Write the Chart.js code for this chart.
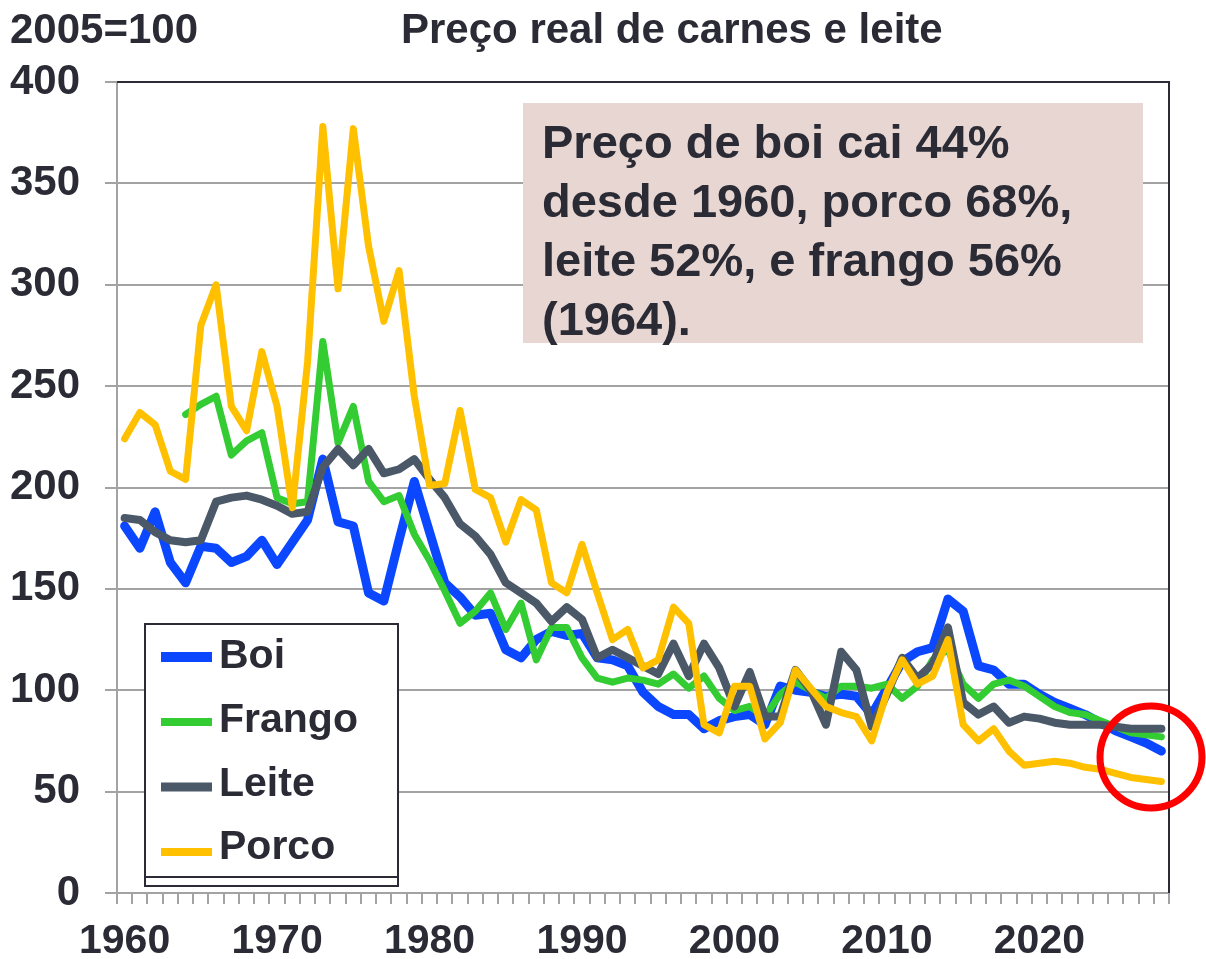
<!DOCTYPE html>
<html><head><meta charset="utf-8">
<script src="https://cdn.jsdelivr.net/npm/chart.js@4.4.0/dist/chart.umd.min.js"></script>
<style>html,body{margin:0;padding:0;background:#fff}#wrap{width:1206px;height:959px;position:relative}</style>
</head><body><div id="wrap"><canvas id="c" width="1206" height="959"></canvas></div>
<script>
const years = ['1960','1961','1962','1963','1964','1965','1966','1967','1968','1969',
  '1970','1971','1972','1973','1974','1975','1976','1977','1978','1979',
  '1980','1981','1982','1983','1984','1985','1986','1987','1988','1989',
  '1990','1991','1992','1993','1994','1995','1996','1997','1998','1999',
  '2000','2001','2002','2003','2004','2005','2006','2007','2008','2009',
  '2010','2011','2012','2013','2014','2015','2016','2017','2018','2019',
  '2020','2021','2022','2023','2024','2025','2026','2027','2028'];
const tickLabels = ['1960','1970','1980','1990','2000','2010','2020'];
const boi = [181,170,188,163,153,171,170,163,166,174,
  162,173,184,214,183,181,148,144,174,203,
  178,153,146,137,138,120,116,125,129,127,
  128,116,115,112,99,92,88,88,81,85,
  87,88,83,102,100,99,97,98,97,88,
  101,114,119,121,145,139,112,110,103,103,
  98,94,91,88,84,80,77,74,70];
const frango = [null,null,null,null,236,241,245,216,223,227,
  195,192,193,272,222,240,203,193,196,177,
  164,149,133,139,148,130,143,115,131,131,
  116,106,104,106,105,103,108,101,107,96,
  90,92,87,98,104,100,96,102,102,101,
  103,96,102,115,120,103,96,103,105,102,
  97,92,89,88,85,82,79,78,77];
const leite = [185,184,178,174,173,174,193,195,196,194,
  191,187,188,210,219,211,219,207,209,214,
  204,195,182,176,167,153,148,143,134,141,
  135,116,120,116,112,108,123,107,123,111,
  92,109,87,87,110,100,83,119,110,82,
  98,116,106,113,131,94,88,92,84,87,
  86,84,83,83,83,82,81,81,81];
const porco = [224,237,231,208,204,280,300,240,228,267,
  240,190,262,378,298,377,319,282,307,245,
  201,202,238,199,195,173,194,189,153,148,
  172,148,125,130,111,115,141,133,83,79,
  102,102,76,84,110,101,92,89,87,75,
  99,115,103,107,125,83,75,81,70,63,
  64,65,64,62,61,59,57,56,55];
const seriesNames = ['Boi','Frango','Leite','Porco'];
const seriesColors = ['#0a47ff','#33cc33','#4a5868','#ffc000'];
const unitLabel = '2005=100';
const chartTitle = 'Preço real de carnes e leite';
const noteLines = ['Preço de boi cai 44%','desde 1960, porco 68%,','leite 52%, e frango 56%','(1964).'];

const TXT = '#2b2b35';
const FONT = '"Liberation Sans", Arial, sans-serif';
const GRID = '#a3a3a3';

const decor = {
  id: 'decor',
  afterDraw(chart) {
    const ctx = chart.ctx, a = chart.chartArea;
    ctx.save();
    ctx.strokeStyle = TXT; ctx.lineWidth = 2;
    ctx.beginPath(); ctx.moveTo(a.left, a.top); ctx.lineTo(a.right, a.top); ctx.lineTo(a.right, a.bottom); ctx.stroke();
    ctx.fillStyle = TXT; ctx.textAlign = 'left'; ctx.textBaseline = 'alphabetic';
    ctx.font = 'bold 42px ' + FONT;
    ctx.fillText(unitLabel, 10, 43);
    ctx.fillText(chartTitle, 401, 43);
    // note box
    ctx.fillStyle = '#e8d6d3';
    ctx.fillRect(523, 103, 620, 240);
    ctx.fillStyle = TXT; ctx.font = 'bold 47px ' + FONT;
    noteLines.forEach((t, i) => ctx.fillText(t, 542, 158 + i * 59));
    // legend
    ctx.fillStyle = '#fff'; ctx.fillRect(145, 624, 253, 262);
    ctx.strokeStyle = TXT; ctx.lineWidth = 2;
    ctx.strokeRect(145, 624, 253, 262);
    ctx.beginPath(); ctx.moveTo(145, 877); ctx.lineTo(398, 877); ctx.stroke();
    ctx.font = 'bold 41px ' + FONT;
    chart.data.datasets.forEach((ds, i) => {
      const yy = 657 + i * 65;
      ctx.strokeStyle = ds.borderColor; ctx.lineWidth = ds.borderWidth + 1; ctx.lineCap = 'butt';
      ctx.beginPath(); ctx.moveTo(161, yy); ctx.lineTo(212, yy); ctx.stroke();
      ctx.fillStyle = TXT; ctx.fillText(ds.label, 219, yy + 11 - i * 1.2);
    });
    // red circle
    ctx.strokeStyle = '#ff0000'; ctx.lineWidth = 7;
    ctx.beginPath(); ctx.arc(1151, 757, 51, 0, Math.PI * 2); ctx.stroke();
    ctx.restore();
  }
};

const widths = [9, 7, 8, 7];
const orders = [4, 3, 2, 1];
const dataSets = [boi, frango, leite, porco].map((d, i) => ({
  label: seriesNames[i], data: d, borderColor: seriesColors[i], backgroundColor: seriesColors[i],
  borderWidth: widths[i], pointRadius: 0, tension: 0, fill: false, order: orders[i],
  borderJoinStyle: 'round', borderCapStyle: 'round', spanGaps: false
}));

new Chart(document.getElementById('c'), {
  type: 'line',
  data: { labels: years, datasets: dataSets },
  options: {
    responsive: false, animation: false, devicePixelRatio: 1,
    layout: { padding: { top: 82, right: 37, left: 0, bottom: 0 } },
    plugins: { legend: { display: false }, tooltip: { enabled: false }, title: { display: false } },
    scales: {
      x: {
        type: 'category', offset: true,
        grid: { offset: true, drawOnChartArea: false, drawTicks: true, tickLength: 11, color: GRID, lineWidth: 2 },
        border: { display: true, color: GRID, width: 2 },
        ticks: { autoSkip: false, maxRotation: 0, minRotation: 0, padding: 13, color: TXT,
          font: { family: FONT, size: 41, weight: 'bold' },
          callback: function (v) { const l = this.getLabelForValue(v); return tickLabels.includes(l) ? l : ''; } },
        afterFit: s => { s.height = 66; }
      },
      y: {
        min: 0, max: 400,
        grid: { color: GRID, lineWidth: 2, tickLength: 12, drawTicks: true },
        border: { display: true, color: GRID, width: 2 },
        ticks: { stepSize: 50, padding: 25, color: TXT, font: { family: FONT, size: 42, weight: 'bold' } },
        afterFit: s => { s.width = 117; }
      }
    }
  },
  plugins: [decor]
});
</script>
</body></html>
